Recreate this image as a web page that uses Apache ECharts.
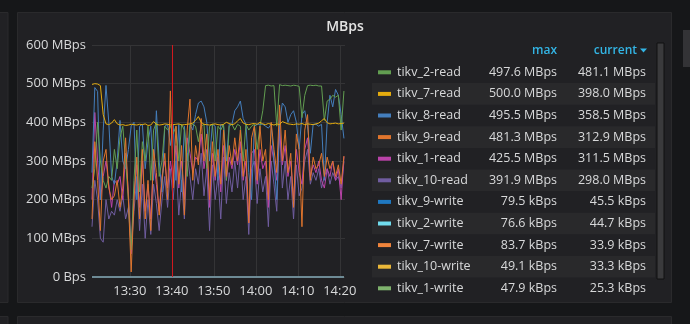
<!DOCTYPE html>
<html><head><meta charset="utf-8">
<script src="https://cdn.jsdelivr.net/npm/echarts@6/dist/echarts.min.js"></script>
<style>html,body{margin:0;padding:0;background:#161719;}#c{width:690px;height:324px;}</style>
</head><body><div id="c"></div>
<script>
// ---- data ----
const stepMs = 40000;               // 40 s sampling for read series
const writeStepMs = 300000;         // 5 min sampling for write series
const startParts = [2018, 5, 1, 13, 21, 0];
const yTicks = [0, 100, 200, 300, 400, 500, 600];
const xTickTimes = [[13,30],[13,40],[13,50],[14,0],[14,10],[14,20]];
const annotationTime = [13, 40, 0];

const seriesNames = ['tikv_2-read','tikv_7-read','tikv_8-read','tikv_9-read','tikv_1-read','tikv_10-read',
  'tikv_9-write','tikv_2-write','tikv_7-write','tikv_10-write','tikv_1-write'];
const seriesColors = ['#629E51','#E5AC0E','#447EBC','#E0752D','#BA43A9','#705DA0',
  '#1F78C1','#70DBED','#EF843C','#EAB839','#7EB26D'];
const maxLabels = ['497.6 MBps','500.0 MBps','495.5 MBps','481.3 MBps','425.5 MBps','391.9 MBps',
  '79.5 kBps','76.6 kBps','83.7 kBps','49.1 kBps','47.9 kBps'];
const currentLabels = ['481.1 MBps','398.0 MBps','358.5 MBps','312.9 MBps','311.5 MBps','298.0 MBps',
  '45.5 kBps','44.7 kBps','33.9 kBps','33.3 kBps','25.3 kBps'];

const tikv2Read = [230,280,400,300,250,230,260,250,330,280,
  360,390,300,200,70,250,380,220,350,300,
  390,250,380,400,260,300,390,380,390,370,
  390,300,395,380,260,390,395,390,350,390,
  395,280,390,395,300,390,380,395,250,390,
  395,380,395,390,300,395,380,390,395,330,
  390,430,495,496,494,495,390,497.6,495,496,
  495,494,496,495,493,412,470,495,496,495,
  496,494,494,405,455,460,470,465,470,380,
  481.1];
const tikv7Read = [498,500,499,495,420,396,394,398,407,396,
  393,394,392,393,395,394,393,395,394,396,
  392,393,402,395,393,394,396,395,393,394,
  395,396,393,394,395,396,398,405,415,400,
  395,394,393,395,396,394,393,395,400,397,
  394,396,404,410,398,395,394,396,397,395,
  400,396,394,397,395,393,396,394,402,399,
  396,395,394,396,395,397,394,396,395,394,
  396,398,404,410,399,396,397,398,396,397,
  398];
const tikv8Read = [270,490,480,200,380,495.5,400,260,240,300,
  405,300,280,330,390,400,200,390,395,280,
  350,390,250,430,300,220,390,395,340,395,
  250,395,220,390,300,395,380,420,450,455,
  440,400,300,395,390,250,395,390,300,395,
  395,430,440,455,410,395,270,200,390,395,
  395,395,390,385,395,300,200,400,450,440,
  400,420,430,400,330,420,430,390,320,395,
  395,390,395,250,400,470,440,485,470,420,
  358.5];
const tikv9Read = [150,350,250,120,300,330,230,200,210,250,
  180,230,360,200,13,200,310,150,330,150,
  250,120,330,270,160,250,320,200,481.3,230,
  390,240,340,160,380,460,250,340,290,410,
  300,370,200,350,260,330,240,380,260,340,
  290,360,300,380,260,330,140,360,390,250,
  390,300,330,200,400,330,270,445,300,380,
  270,320,180,370,330,130,380,420,250,310,
  280,290,320,260,310,280,300,260,290,240,
  312.9];
const tikv1Read = [200,425.5,300,200,260,300,240,180,250,240,
  260,200,320,220,60,220,290,180,300,170,
  240,150,300,240,170,260,300,230,300,250,
  340,230,300,200,360,320,270,310,300,370,
  280,330,180,320,250,310,220,340,250,310,
  280,330,290,350,250,300,140,320,330,240,
  330,280,300,180,340,300,250,380,290,340,
  260,300,200,330,270,240,330,360,260,290,
  270,300,250,230,280,260,300,250,280,200,
  311.5];
const tikv10Read = [130,250,200,100,90,200,150,170,160,200,
  170,210,150,180,70,170,260,120,240,100,
  200,110,240,190,120,200,260,180,280,200,
  300,160,250,150,320,260,200,280,240,320,
  210,280,120,290,200,260,150,310,190,270,
  220,300,230,320,200,260,110,280,300,190,
  280,220,260,130,300,240,170,391.9,230,300,
  200,260,150,290,210,230,300,330,240,270,
  250,280,230,260,280,240,270,250,260,230,
  298];
const tikv9Write  = [0.041,0.052,0.0795,0.038,0.046,0.061,0.044,0.050,0.057,0.039,0.048,0.066,0.0455];
const tikv2Write  = [0.050,0.0766,0.042,0.055,0.047,0.060,0.039,0.052,0.044,0.058,0.049,0.041,0.0447];
const tikv7Write  = [0.036,0.045,0.0837,0.041,0.052,0.038,0.047,0.060,0.035,0.044,0.050,0.039,0.0339];
const tikv10Write = [0.030,0.041,0.035,0.0491,0.028,0.037,0.033,0.044,0.031,0.039,0.036,0.029,0.0333];
const tikv1Write  = [0.028,0.035,0.0479,0.031,0.026,0.040,0.033,0.029,0.037,0.030,0.034,0.027,0.0253];

const valuesList = [tikv2Read,tikv7Read,tikv8Read,tikv9Read,tikv1Read,tikv10Read,
  tikv9Write,tikv2Write,tikv7Write,tikv10Write,tikv1Write];

// ---- build ----
const t0 = new Date(...startParts).getTime();
const tEnd = t0 + 60 * 60000 + 15000;
const mkTime = (h, m, s) => new Date(startParts[0], startParts[1], startParts[2], h, m, s || 0).getTime();
const tRed = mkTime(...annotationTime);
const xTicks = xTickTimes.map(p => mkTime(p[0], p[1], 0));
const FONT = '"Open Sans", Roboto, sans-serif';
const TXT = '#d8d9da';
const pad2 = n => (n < 10 ? '0' : '') + n;

function toPairs(vals, isWrite) {
  const st = isWrite ? writeStepMs : stepMs;
  return vals.map((v, i) => [t0 + i * st, v]);
}
// drawing order (later on top)
const drawOrder = [5, 4, 2, 0, 3, 1, 10, 9, 7, 8, 6];
const series = drawOrder.map((k, n) => {
  const w = k >= 6;
  const s = {
    name: seriesNames[k], type: 'line', data: toPairs(valuesList[k], w),
    showSymbol: false, symbol: 'none', animation: false,
    lineStyle: { width: w ? 2 : 1, color: seriesColors[k], opacity: w ? 0.5 : 1 }, itemStyle: { color: seriesColors[k] }
  };
  if (n === drawOrder.length - 1) {
    s.markLine = { silent: true, symbol: 'none', label: { show: false },
      lineStyle: { color: '#d0191f', width: 1, type: 'solid', opacity: 1 }, data: [{ xAxis: tRed }] };
  }
  return s;
});

const graphic = [];
// page panels
graphic.push({ type: 'rect', z: -10, shape: { x: -12, y: 12.5, width: 20, height: 290 }, style: { fill: '#212124', stroke: '#2a2a2c' } });
graphic.push({ type: 'rect', z: -10, shape: { x: -12, y: 316.5, width: 20, height: 30 }, style: { fill: '#212124', stroke: '#2a2a2c' } });
graphic.push({ type: 'rect', z: -10, shape: { x: 17.5, y: 316.5, width: 654, height: 30 }, style: { fill: '#212124', stroke: '#2a2a2c' } });
graphic.push({ type: 'rect', z: -10, shape: { x: 17.5, y: 12.5, width: 654, height: 290 }, style: { fill: '#212124', stroke: '#2a2a2c' } });
graphic.push({ type: 'rect', z: -10, shape: { x: 683, y: 30, width: 7, height: 37 }, style: { fill: '#333336' } });
// title
graphic.push({ type: 'text', style: { text: 'MBps', x: 345, y: 27, align: 'center', verticalAlign: 'middle', fill: '#e3e3e3', font: '600 14px ' + FONT } });
// legend header
graphic.push({ type: 'text', style: { text: 'max', x: 557, y: 51, align: 'right', verticalAlign: 'middle', fill: '#33b5e5', font: '600 12px ' + FONT } });
graphic.push({ type: 'text', style: { text: 'current', x: 637, y: 51, align: 'right', verticalAlign: 'middle', fill: '#33b5e5', font: '600 12px ' + FONT } });
graphic.push({ type: 'polygon', shape: { points: [[640, 48.5], [647, 48.5], [643.5, 52.5]] }, style: { fill: '#33b5e5' } });
// legend rows
const rowY0 = 72.3, rowH = 21.6;
seriesNames.forEach((nm, i) => {
  const y = rowY0 + i * rowH;
  if (i % 2 === 1) graphic.push({ type: 'rect', z: -5, shape: { x: 372, y: y - rowH / 2, width: 283, height: rowH }, style: { fill: '#29292b' } });
  graphic.push({ type: 'rect', shape: { x: 378, y: y - 2, width: 13, height: 4 }, style: { fill: seriesColors[i] } });
  graphic.push({ type: 'text', style: { text: nm, x: 397, y: y, verticalAlign: 'middle', fill: TXT, font: '12.5px ' + FONT } });
  graphic.push({ type: 'text', style: { text: maxLabels[i], x: 557, y: y, align: 'right', verticalAlign: 'middle', fill: TXT, font: '12.5px ' + FONT } });
  graphic.push({ type: 'text', style: { text: currentLabels[i], x: 646, y: y, align: 'right', verticalAlign: 'middle', fill: TXT, font: '12.5px ' + FONT } });
});
// scrollbar
graphic.push({ type: 'rect', shape: { x: 657, y: 43, width: 7, height: 236 }, style: { fill: '#3a3a3c', stroke: '#111', lineWidth: 1 } });

const chart = echarts.init(document.getElementById('c'), null, { renderer: 'canvas' });
chart.setOption({
  backgroundColor: '#161719',
  animation: false,
  grid: { left: 92, right: 345, top: 45, bottom: 47, containLabel: false },
  xAxis: {
    type: 'value', min: t0, max: tEnd, scale: true,
    axisLine: { show: false },
    axisTick: { show: false, customValues: xTicks },
    splitLine: { show: true, lineStyle: { color: '#343436', width: 1 } },
    axisLabel: { color: TXT, fontSize: 13, fontFamily: FONT, margin: 8, customValues: xTicks,
      formatter: v => { const d = new Date(v); return pad2(d.getHours()) + ':' + pad2(d.getMinutes()); } }
  },
  yAxis: {
    type: 'value', min: yTicks[0], max: yTicks[yTicks.length - 1], interval: 100,
    axisLine: { show: false }, axisTick: { show: false },
    splitLine: { show: true, lineStyle: { color: '#343436', width: 1 } },
    axisLabel: { color: TXT, fontSize: 13, fontFamily: FONT, margin: 6,
      formatter: v => v === 0 ? '0 Bps' : v + ' MBps' }
  },
  series: series,
  graphic: graphic
});
</script></body></html>
